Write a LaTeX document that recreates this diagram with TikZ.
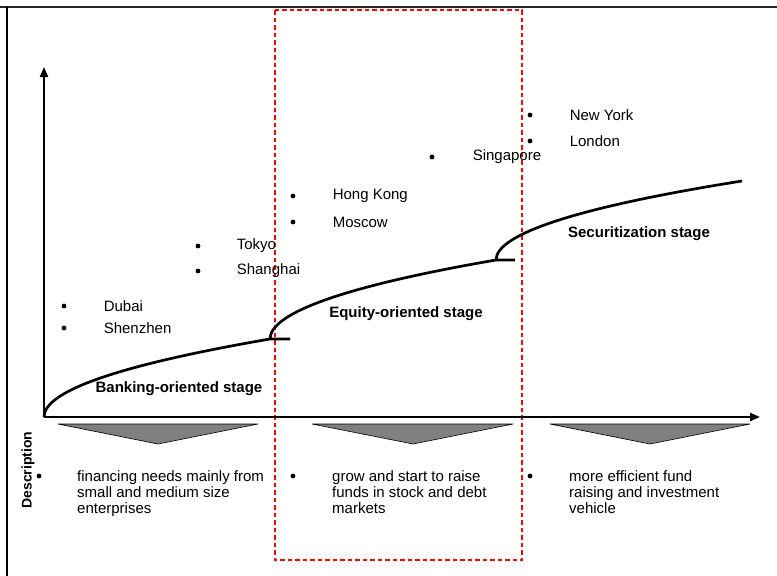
\documentclass[tikz,border=0pt]{standalone}
\usepackage{fontspec}
\setmainfont{Liberation Sans}
\usetikzlibrary{arrows.meta,positioning}

\begin{document}
\begin{tikzpicture}[
      x=1pt, y=-1pt,
      font=\fontsize{15}{16}\selectfont,
      axis/.style={line width=2pt, -{Triangle[length=10pt,width=8pt]}},
      curve/.style={line width=2.7pt},
      pt/.style={circle, fill, inner sep=0pt, minimum size=4.8pt},
      city/.style={inner sep=0pt},
      stage/.style={font=\fontsize{15}{16}\selectfont\bfseries},
      desc/.style={inner sep=0pt, align=left, anchor=north west},
      wedge/.style={draw, line width=0.6pt, fill=gray}
    ]
    \useasboundingbox (0,0) rectangle (777,576);

    % Frame
    \draw[line width=1.8pt, black!85] (0,7) -- (777,7);
    \draw[line width=1.3pt] (7,7) -- (7,576);

    % Highlighted stage
    \draw[red, line width=1.3pt, dash pattern=on 4.5pt off 3pt] (275,10) rectangle (522,560);

    % Axes
    \coordinate (o) at (44,417);
    \draw[axis] (o) -- (44,67);
    \draw[axis] (o) -- (760,417);

    % Stage curves
    \coordinate (s2) at (270,339);
    \coordinate (s3) at (496,260);
    \draw[curve] (o) .. controls (44,391) and (119,365) .. (s2) -- (290,339);
    \draw[curve] (s2) .. controls (270,313) and (345,286) .. (s3) -- (515,260);
    \draw[curve] (s3) .. controls (496,234) and (578,207) .. (742,181);

    \node[stage] (bank) at (179,389) {Banking-oriented stage};
    \node[stage] (equity) at (406,314) {Equity-oriented stage};
    \node[stage] (secur) at (639,234) {Securitization stage};

    % Cities
    \node[pt] (d1) at (64,306) {};
    \node[city, right=37pt of d1] (dubai) {Dubai};
    \node[pt] (d2) at (64,328) {};
    \node[city, right=37pt of d2] (shenzhen) {Shenzhen};
    \node[pt] (d3) at (198,246) {};
    \node[city, right=36pt of d3] (tokyo) {Tokyo};
    \node[pt] (d4) at (198,271) {};
    \node[city, right=36pt of d4] (shanghai) {Shanghai};
    \node[pt] (d5) at (293,196) {};
    \node[city, right=37pt of d5] (hk) {Hong Kong};
    \node[pt] (d6) at (293,222) {};
    \node[city, right=37pt of d6] (moscow) {Moscow};
    \node[pt] (d7) at (432,157) {};
    \node[city, right=38pt of d7] (sing) {Singapore};
    \node[pt] (d8) at (530,115) {};
    \node[city, right=37pt of d8] (ny) {New York};
    \node[pt] (d9) at (530,141) {};
    \node[city, right=37pt of d9] (london) {London};

    % Description row
    \draw[wedge] (58,424) -- (258,424) -- (158,444) -- cycle;
    \draw[wedge] (312,424) -- (513,424) -- (413,444) -- cycle;
    \draw[wedge] (550,424) -- (750,424) -- (650,444) -- cycle;

    \node[font=\fontsize{14}{16}\selectfont\bfseries, rotate=90] (descr) at (28,470) {Description};

    \node[pt] (b1) at (39,476) {};
    \node[desc] (t1) at (77,470) {financing needs mainly from\\small and medium size\\enterprises};
    \node[pt] (b2) at (293,476) {};
    \node[desc] (t2) at (332,470) {grow and start to raise\\funds in stock and debt\\markets};
    \node[pt] (b3) at (530,476) {};
    \node[desc] (t3) at (569,470) {more efficient fund\\raising and investment\\vehicle};

    \end{tikzpicture}
\end{document}
